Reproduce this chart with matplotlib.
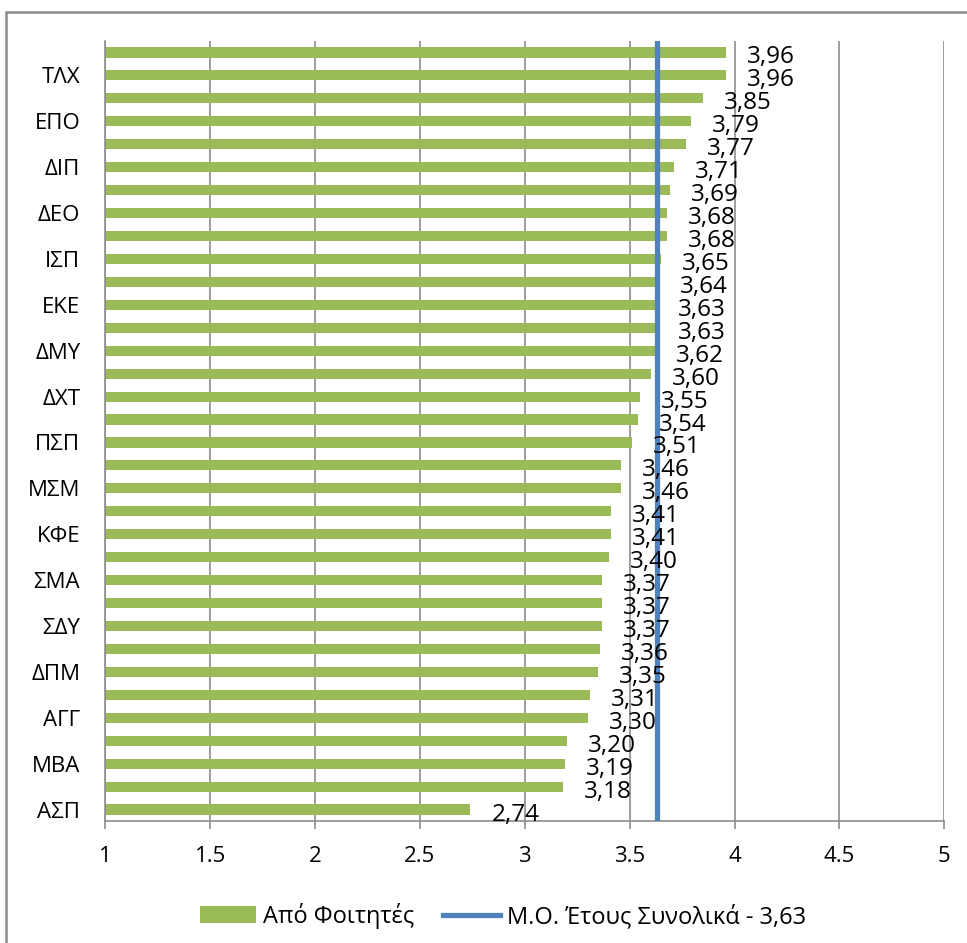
import numpy as np
import matplotlib
matplotlib.use("Agg")
import matplotlib.pyplot as plt
from matplotlib.patches import Rectangle, Patch
from matplotlib.lines import Line2D

plt.rcParams['font.family'] = ['Open Sans', 'DejaVu Sans']

# data, top to bottom (only every second category is labelled in the chart)
labels = ['', 'ΤΛΧ', '', 'ΕΠΟ', '', 'ΔΙΠ', '', 'ΔΕΟ', '', 'ΙΣΠ', '', 'ΕΚΕ',
          '', 'ΔΜΥ', '', 'ΔΧΤ', '', 'ΠΣΠ', '', 'ΜΣΜ', '', 'ΚΦΕ', '', 'ΣΜΑ',
          '', 'ΣΔΥ', '', 'ΔΠΜ', '', 'ΑΓΓ', '', 'ΜΒΑ', '', 'ΑΣΠ']
values = [3.96, 3.96, 3.85, 3.79, 3.77, 3.71, 3.69, 3.68, 3.68, 3.65, 3.64,
          3.63, 3.63, 3.62, 3.60, 3.55, 3.54, 3.51, 3.46, 3.46, 3.41, 3.41,
          3.40, 3.37, 3.37, 3.37, 3.36, 3.35, 3.31, 3.30, 3.20, 3.19, 3.18, 2.74]
mean_value = 3.63
bar_name = 'Από Φοιτητές'
mean_name = 'Μ.Ο. Έτους Συνολικά - 3,63'

green = '#9BBB59'
blue = '#4F81BD'
grey = '#8c8c8c'

W, H = 967, 943
fig = plt.figure(figsize=(W / 100, H / 100), dpi=100)
ax = fig.add_axes([105.3 / W, 1 - 821 / H, (944.3 - 105.3) / W, (821 - 41) / H])

y = np.arange(len(values))
ax.barh(y, [v - 1 for v in values], left=1, height=0.44, color=green, zorder=2)
ax.set_ylim(len(values) - 0.5, -0.5)
ax.set_xlim(1, 5)

ax.axvline(mean_value, color=blue, lw=3.8, zorder=3)

for yi, v in zip(y, values):
    ax.annotate('{:.2f}'.format(v).replace('.', ','), (v, yi),
                xytext=(21, -5), textcoords='offset pixels',
                ha='left', va='center', fontsize=17.5, zorder=4)

ax.set_xticks(np.arange(1, 5.01, 0.5))
ax.set_xticklabels(['1', '1.5', '2', '2.5', '3', '3.5', '4', '4.5', '5'])
ax.set_yticks(y)
ax.set_yticklabels(labels)
ax.tick_params(axis='y', length=0, pad=18, labelsize=16)
ax.tick_params(axis='x', length=6, width=1.2, color=grey, pad=12, labelsize=16)
ax.grid(axis='x', color=grey, lw=1.2, zorder=0)
ax.set_axisbelow(True)
for s in ['top', 'right']:
    ax.spines[s].set_visible(False)
for s in ['left', 'bottom']:
    ax.spines[s].set_color(grey)
    ax.spines[s].set_linewidth(1.2)

handles = [Patch(facecolor=green, label=bar_name),
           Line2D([], [], color=blue, lw=3.8, label=mean_name)]
fig.legend(handles=handles, loc='center', bbox_to_anchor=(0.52, 1 - 916 / H),
           ncol=2, frameon=False, fontsize=17, handlelength=2.4,
           handletextpad=0.3, columnspacing=1.2)

# outer chart frame (partly cropped off in the original)
fig.add_artist(Rectangle((6 / W, -0.1), 1.2, 1 - 12 / H + 0.1,
                         transform=fig.transFigure, fill=False,
                         edgecolor=grey, lw=1.8))

fig.savefig('out.png', dpi=100)
